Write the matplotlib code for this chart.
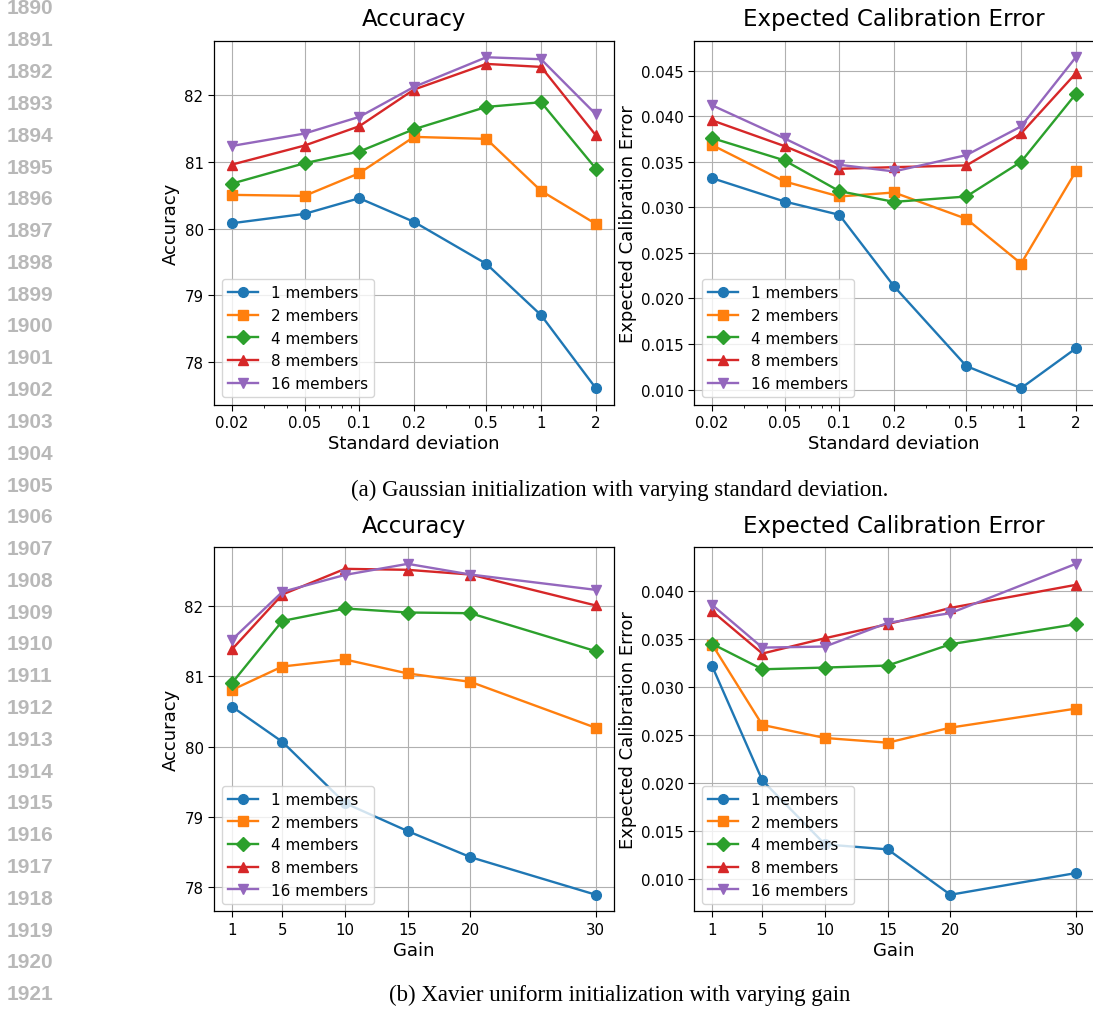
import numpy as np
import matplotlib as mpl
mpl.use('Agg')
import matplotlib.pyplot as plt
from matplotlib.ticker import NullFormatter

# x values
std_vals = [0.02, 0.05, 0.1, 0.2, 0.5, 1, 2]
std_labels = ['0.02', '0.05', '0.1', '0.2', '0.5', '1', '2']
gain_vals = [1, 5, 10, 15, 20, 30]

members = [1, 2, 4, 8, 16]
markers = ['o', 's', 'D', '^', 'v']

# (a) gaussian init, accuracy per ensemble size
acc_std_1 = [80.08, 80.22, 80.455, 80.10, 79.47, 78.70, 77.605]
acc_std_2 = [80.505, 80.49, 80.83, 81.375, 81.345, 80.565, 80.07]
acc_std_4 = [80.675, 80.98, 81.155, 81.49, 81.825, 81.895, 80.90]
acc_std_8 = [80.96, 81.245, 81.535, 82.085, 82.47, 82.425, 81.40]
acc_std_16 = [81.24, 81.425, 81.675, 82.125, 82.57, 82.54, 81.715]

# (a) gaussian init, ECE
ece_std_1 = [0.0332, 0.03064, 0.02918, 0.02134, 0.01258, 0.01016, 0.01452]
ece_std_2 = [0.03683, 0.03284, 0.03119, 0.03163, 0.02874, 0.02383, 0.03394]
ece_std_4 = [0.0376, 0.03515, 0.03178, 0.0306, 0.03119, 0.0350, 0.04244]
ece_std_8 = [0.03954, 0.03672, 0.03423, 0.03441, 0.0346, 0.03811, 0.04471]
ece_std_16 = [0.04119, 0.03756, 0.03467, 0.03394, 0.03573, 0.03888, 0.04647]

# (b) xavier uniform, accuracy
acc_gain_1 = [80.569, 80.071, 79.199, 78.801, 78.431, 77.896]
acc_gain_2 = [80.81, 81.142, 81.242, 81.043, 80.924, 80.27]
acc_gain_4 = [80.91, 81.79, 81.967, 81.91, 81.90, 81.36]
acc_gain_8 = [81.389, 82.166, 82.531, 82.517, 82.45, 82.01]
acc_gain_16 = [81.526, 82.204, 82.445, 82.602, 82.45, 82.232]

# (b) xavier uniform, ECE
ece_gain_1 = [0.03218, 0.02028, 0.01361, 0.01309, 0.00836, 0.01062]
ece_gain_2 = [0.03444, 0.02606, 0.0247, 0.02421, 0.02578, 0.02776]
ece_gain_4 = [0.03451, 0.03186, 0.03204, 0.03225, 0.03447, 0.03656]
ece_gain_8 = [0.03791, 0.0335, 0.0351, 0.03656, 0.03826, 0.04066]
ece_gain_16 = [0.03857, 0.03412, 0.03423, 0.0367, 0.03771, 0.04285]

line_numbers = list(range(1890, 1922))

mpl.rcParams['font.size'] = 11
mpl.rcParams['xtick.labelsize'] = 10.8
mpl.rcParams['ytick.labelsize'] = 10.8
mpl.rcParams['lines.linewidth'] = 1.7
mpl.rcParams['lines.markersize'] = 7
mpl.rcParams['axes.linewidth'] = 0.9
mpl.rcParams['xtick.major.size'] = 4
mpl.rcParams['ytick.major.size'] = 4
mpl.rcParams['xtick.minor.size'] = 2.3

W, H = 1093, 1012
fig = plt.figure(figsize=(W / 100, H / 100), dpi=100)


def add_ax(x0, y_top, w=400, h=364):
    return fig.add_axes([x0 / W, 1 - (y_top + h) / H, w / W, h / H])


def draw_panel(ax, x, series, title, ylabel, xlabel):
    for ys, m, n in zip(series, markers, members):
        ax.plot(x, ys, marker=m, label=f'{n} members')
    ax.set_title(title, fontsize=16.5, pad=11)
    ax.set_ylabel(ylabel, fontsize=13, labelpad=3)
    ax.set_xlabel(xlabel, fontsize=13, labelpad=3)
    ax.grid(True)
    ax.legend(loc='lower left')


ax_tl = add_ax(214, 41.7)
ax_tr = add_ax(694, 41.7)
ax_bl = add_ax(214, 548.3)
ax_br = add_ax(694, 548.3)

draw_panel(ax_tl, std_vals, [acc_std_1, acc_std_2, acc_std_4, acc_std_8, acc_std_16],
           'Accuracy', 'Accuracy', 'Standard deviation')
draw_panel(ax_tr, std_vals, [ece_std_1, ece_std_2, ece_std_4, ece_std_8, ece_std_16],
           'Expected Calibration Error', 'Expected Calibration Error', 'Standard deviation')
draw_panel(ax_bl, gain_vals, [acc_gain_1, acc_gain_2, acc_gain_4, acc_gain_8, acc_gain_16],
           'Accuracy', 'Accuracy', 'Gain')
draw_panel(ax_br, gain_vals, [ece_gain_1, ece_gain_2, ece_gain_4, ece_gain_8, ece_gain_16],
           'Expected Calibration Error', 'Expected Calibration Error', 'Gain')

for ax in (ax_tl, ax_tr):
    ax.set_xscale('log')
    ax.set_xticks(std_vals, std_labels)
    ax.xaxis.set_minor_formatter(NullFormatter())
for ax in (ax_bl, ax_br):
    ax.set_xticks(gain_vals)

# captions
fig.text(620 / W, 1 - 490 / H, '(a) Gaussian initialization with varying standard deviation.',
         ha='center', va='center', family='Liberation Serif', fontsize=16.5)
fig.text(620 / W, 1 - 995 / H, '(b) Xavier uniform initialization with varying gain',
         ha='center', va='center', family='Liberation Serif', fontsize=16.5)

# page line numbers
for i, n in enumerate(line_numbers):
    fig.text(7 / W, 1 - (9 + i * 31.8) / H, str(n), ha='left', va='center',
             family='Liberation Sans', weight='bold', fontsize=15, color='#b8b8b8')

fig.savefig('out.png', dpi=100)
